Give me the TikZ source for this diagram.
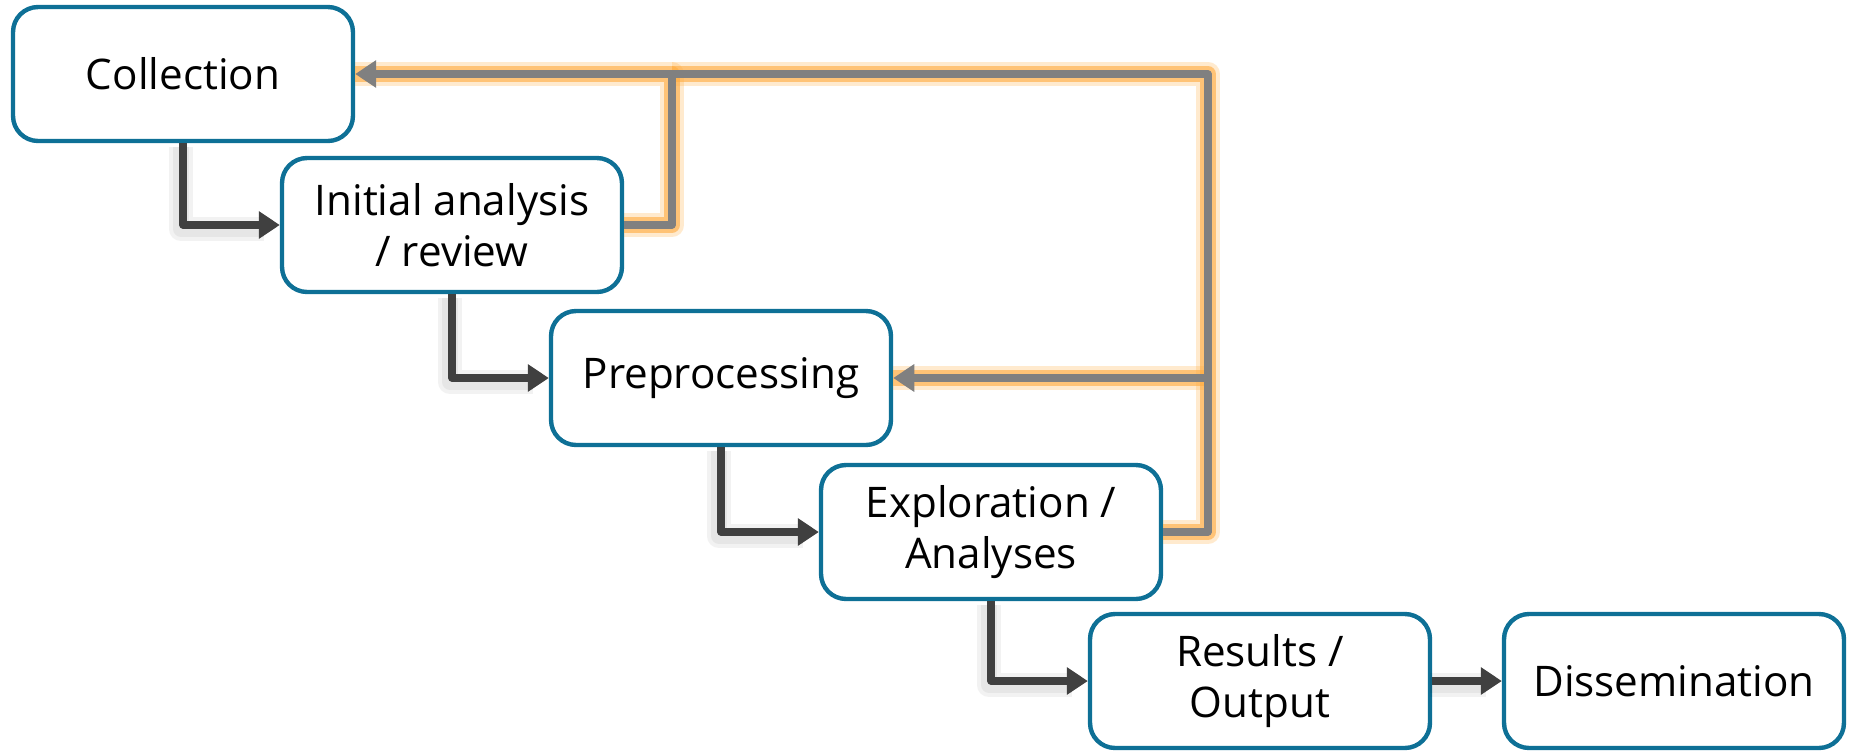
\documentclass[tikz,border=0pt]{standalone}
\usepackage{fontspec}
\setmainfont{Open Sans}
\usetikzlibrary{arrows.meta}
\definecolor{boxblue}{RGB}{14,112,150}
\definecolor{flowgray}{RGB}{64,64,64}
\definecolor{backgray}{RGB}{128,128,128}
\definecolor{glow}{RGB}{255,170,60}
\tikzstyle{stage}=[draw=boxblue,line width=2.5pt,rounded corners=0.5cm,fill=white,minimum width=6.8cm,minimum height=2.68cm,align=center,inner sep=2pt,font=\fontsize{24}{29}\selectfont]
\tikzstyle{flow}=[draw=flowgray,line width=4pt,line join=round,-{Triangle[length=12pt,width=15pt]}]
\tikzstyle{flowshadow}=[draw=black,opacity=0.05,line width=10pt,line join=round]
\tikzstyle{back}=[draw=backgray,line width=4pt,line join=round]
\tikzstyle{backglow}=[draw=glow,line width=9pt,opacity=0.6,line join=round]
\tikzstyle{backhalo}=[draw=glow,line width=14pt,opacity=0.25,line join=round]

\begin{document}
\begin{tikzpicture}[x=0.02cm,y=-0.02cm]
    \useasboundingbox (0,0) rectangle (1854,751);
    \node[stage] (coll) at (183,74)  {Collection};
    \node[stage] (init) at (452,225) {Initial analysis\\/ review};
    \node[stage] (prep) at (721,378) {Preprocessing};
    \node[stage] (expl) at (991,532) {Exploration /\\Analyses};
    \node[stage] (res)  at (1260,681) {Results /\\Output};
    \node[stage] (diss) at (1674,681) {Dissemination};

    % loop-back corners
    \coordinate (fbi) at (672,74);
    \coordinate (fbe) at (1208,74);
    \coordinate (fbp) at (1208,378);

    % glow under the loop-back lines
    \foreach \glowstyle in {backhalo,backglow}{
        \draw[\glowstyle] (init.east) -| (fbi) -- (coll.east);
        \draw[\glowstyle] (expl.east) -| (fbe) -- (fbi);
        \draw[\glowstyle] (fbp) -- (prep.east);
    }
    \draw[back] (init.east) -| (fbi);
    \draw[back] (expl.east) -| (fbe) -- (fbi);
    \draw[back,-{Triangle[length=12pt,width=15pt]}] (fbi) -- (coll.east);
    \draw[back,-{Triangle[length=12pt,width=15pt]}] (fbp) -- (prep.east);

    % forward flow
    \foreach \from/\to in {coll/init,init/prep,prep/expl,expl/res}{
        \foreach \w in {14,9}
            \draw[flowshadow,line width=\w pt] ([shift={(-2,4)}]\from.south) |- ([shift={(-16,4)}]\to.west);
        \draw[flow] (\from.south) |- (\to.west);
    }
    \foreach \w in {14,9}
        \draw[flowshadow,line width=\w pt] ([shift={(-2,4)}]res.east) -- ([shift={(-16,4)}]diss.west);
    \draw[flow] (res) -- (diss);
\end{tikzpicture}
\end{document}
